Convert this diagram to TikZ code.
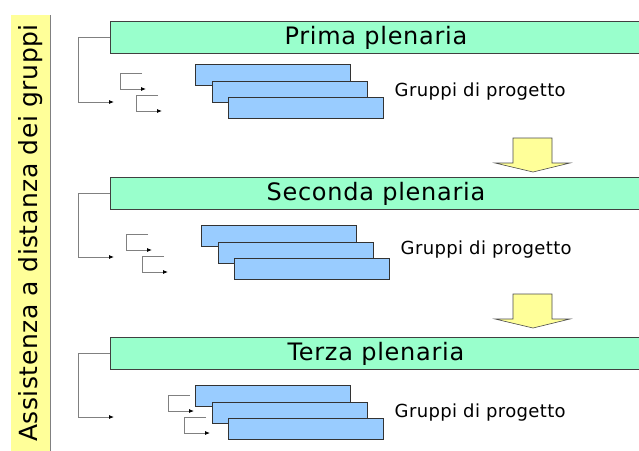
\documentclass[tikz,border=0pt]{standalone}
\usepackage{fontspec}
\setmainfont{DejaVu Sans}
\newfontfamily\titolofont[LetterSpace=3]{DejaVu Sans}
\newfontfamily\gruppofont[LetterSpace=2]{DejaVu Sans}
\usepackage{tikz}
\usetikzlibrary{arrows.meta,calc,positioning}
\definecolor{verdeChiaro}{HTML}{99FFCC}
\definecolor{azzurro}{HTML}{99CCFF}
\definecolor{giallo}{HTML}{FFFF99}
\definecolor{grigio}{RGB}{128,128,128}
\tikzstyle{plenaria}=[draw=black!75, fill=verdeChiaro, line width=0.8pt,
                    minimum width=531pt, minimum height=32pt,
                    inner sep=0pt, anchor=north west,
                    font=\titolofont\fontsize{24}{24}\selectfont]
\tikzstyle{gruppo}  =[draw=black!80, fill=azzurro, line width=0.7pt,
                    minimum width=155pt, minimum height=21pt,
                    inner sep=0pt, anchor=north west]
\tikzstyle{link}    =[grigio, line width=0.8pt,
                    -{Latex[length=5pt,width=4pt,color=black]}]
\tikzstyle{freccia} =[draw=black!70, fill=giallo, line width=0.6pt]

\begin{document}
\begin{tikzpicture}[x=1pt,y=-1pt]

        \useasboundingbox (0,0) rectangle (639,450);

        % fascia laterale
        \node[fill=giallo, rotate=90, minimum width=436pt, minimum height=39pt,
              inner sep=0pt, font=\gruppofont\fontsize{25}{25}\selectfont]
              (lato) at (30.5,233) {Assistenza a distanza dei gruppi};
        \draw[grigio, line width=0.8pt] (lato.south west) -- (lato.south east);

        % tre plenarie
        \foreach \i/\nome/\gy/\bx/\by/\sx/\sy/\ly/\ty in
            {1/Prima/21/195/64/120/73/102/0,
             2/Seconda/177/201/225/126/234/257/3,
             3/Terza/337/195/385/168/395/417/0}
        {
            \node[plenaria] (plen\i) at (110,\gy) {\nome\ plenaria};

            \node[gruppo] (g\i1) at (\bx,\by) {};
            \node[gruppo] (g\i2) at ($(g\i1.north west)+(16.5,16.5)$) {};
            \node[gruppo] (g\i3) at ($(g\i2.north west)+(16.5,16.5)$) {};

            \node[right=24pt of g\i2, yshift=\ty pt,
                  font=\gruppofont\fontsize{18}{18}\selectfont]
                (testo\i) {Gruppi di progetto};

            \coordinate (c\i) at (114,\ly);
            \draw[link] (plen\i.west) -- ++(-32,0) |- (c\i);

            \foreach \k/\dx/\dy in {a/0/0,b/16/22}
            {
                \coordinate (\k s\i) at (\sx+\dx+22,\sy+\dy);
                \coordinate (\k e\i) at (\sx+\dx+26,\sy+\dy+16);
                \draw[link] (\k s\i) -- ++(-22,0) |- (\k e\i);
            }
        }

        % frecce gialle
        \foreach \y in {138,294}
            \draw[freccia] (513,\y) -- (552,\y) -- (552,\y+25) -- (570,\y+25)
                -- (533,\y+34) -- (495,\y+25) -- (513,\y+25) -- cycle;

\end{tikzpicture}
\end{document}
